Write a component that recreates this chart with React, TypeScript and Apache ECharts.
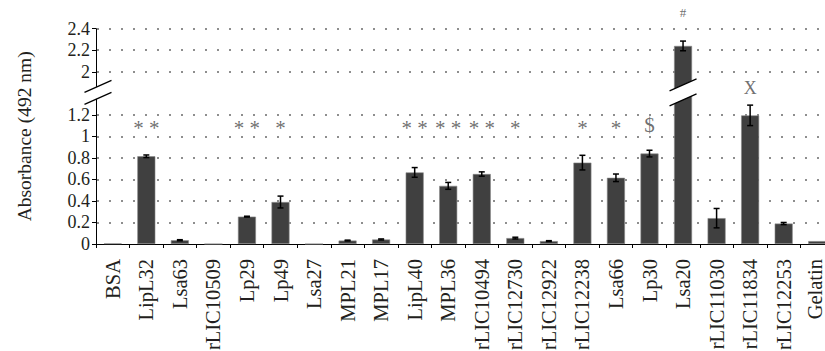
import React, { useEffect, useRef } from "react";
import * as echarts from "echarts";

const categories = [
  "BSA", "LipL32", "Lsa63", "rLIC10509", "Lp29", "Lp49", "Lsa27", "MPL21", "MPL17", "LipL40", "MPL36",
  "rLIC10494", "rLIC12730", "rLIC12922", "rLIC12238", "Lsa66", "Lp30", "Lsa20", "rLIC11030", "rLIC11834",
  "rLIC12253", "Gelatin",
];
const values = [
  0.006, 0.815, 0.035, 0, 0.254, 0.39, 0, 0.032, 0.042, 0.665, 0.54,
  0.65, 0.055, 0.027, 0.756, 0.615, 0.84, 2.24, 0.24, 1.195,
  0.19, 0.027,
];
const errors = [
  0, 0.012, 0.005, 0, 0.004, 0.055, 0, 0.004, 0.005, 0.045, 0.032,
  0.02, 0.008, 0.004, 0.068, 0.035, 0.031, 0.045, 0.09, 0.095,
  0.01, 0,
];
const annotations = [
  "", "* *", "", "", "* *", "*", "", "", "", "* *", "* *",
  "* *", "*", "", "*", "*", "$", "#", "", "X",
  "", "",
];
// annotation positions on the (broken) displayed scale
const annotationPos = [
  0, 1.08, 0, 0, 1.08, 1.08, 0, 0, 0, 1.08, 1.08,
  1.08, 1.08, 0, 1.08, 1.08, 1.11, 2.15, 0, 1.45,
  0, 0,
];
const annotationSize = [
  0, 21, 0, 0, 21, 21, 0, 0, 0, 21, 21,
  21, 21, 0, 21, 21, 21, 13, 0, 18,
  0, 0,
];
const gridValues = [0.2, 0.4, 0.6, 0.8, 1.0, 1.2, 1.6, 1.8, 2.0];
const breakAt = 1.4; // displayed position of the axis break
const breakShift = 0.4; // real values above the break are shifted down by this

const toDisplay = (v: number) => (v > 1.3 ? v - breakShift : v);

const FONT = "'Liberation Serif', 'Times New Roman', serif";

export default function App() {
  const ref = useRef<HTMLDivElement>(null);
  useEffect(() => {
    document.body.style.margin = "0";
    const chart = echarts.init(ref.current!, null, { renderer: "svg" });
    const barData = values.map((v) => toDisplay(v));
    const errData = values
      .map((v, i) => [i, toDisplay(v + errors[i]), toDisplay(v - errors[i]), errors[i]])
      .filter((d) => d[3] > 0);
    const annData = annotations
      .map((t, i) => ({
        value: [i, annotationPos[i]],
        text: t,
        label: { fontSize: annotationSize[i] },
      }))
      .filter((d) => d.text !== "");
    const catData = categories.map((c, i) =>
      i === categories.length - 1
        ? { value: c, textStyle: { verticalAlign: "bottom", lineHeight: 5 } }
        : c
    );

    chart.setOption({
      animation: false,
      grid: {
        left: 96,
        right: -9,
        top: 28.7,
        bottom: 107,
        containLabel: false,
        outerBoundsMode: "none",
      },
      xAxis: {
        type: "category",
        data: catData,
        boundaryGap: true,
        axisLine: { lineStyle: { color: "#000", width: 1 } },
        axisTick: { show: true, length: 4, lineStyle: { color: "#000" } },
        axisLabel: {
          rotate: 90,
          interval: 0,
          margin: 15,
          fontFamily: FONT,
          fontSize: 20.5,
          lineHeight: 15,
          color: "#231f20",
        },
      },
      yAxis: {
        type: "value",
        min: 0,
        max: 2.0,
        interval: 0.2,
        name: "Absorbance (492 nm)",
        nameLocation: "middle",
        nameGap: 62,
        nameTextStyle: { fontFamily: FONT, fontSize: 19.5, color: "#231f20" },
        axisLine: { show: true, lineStyle: { color: "#000", width: 1 } },
        axisTick: { show: true, length: 4, lineStyle: { color: "#000" } },
        splitLine: { show: false },
        axisLabel: {
          fontFamily: FONT,
          fontSize: 18,
          color: "#231f20",
          margin: 6,
          formatter: (v: number) => {
            if (Math.abs(v - breakAt) < 1e-6) return "";
            const real = v > 1.3 ? v + breakShift : v;
            return String(parseFloat(real.toFixed(1)));
          },
        },
      },
      series: [
        {
          type: "bar",
          data: barData,
          barWidth: 18,
          itemStyle: { color: "#404040", borderColor: "#8a8a8a", borderWidth: 0.6 },
          markLine: {
            silent: true,
            symbol: "none",
            label: { show: false },
            lineStyle: { color: "#6a6a6a", type: [2, 10], width: 1.5, dashOffset: -1 },
            data: gridValues.map((g) => ({ yAxis: g })),
            z: 1,
          },
          z: 2,
        },
        {
          type: "custom",
          data: errData,
          z: 5,
          renderItem: (params: any, api: any) => {
            const x = api.value(0);
            const top = api.coord([x, api.value(1)]);
            const bot = api.coord([x, api.value(2)]);
            const half = 3;
            const style = { stroke: "#000", lineWidth: 1.5 };
            return {
              type: "group",
              children: [
                { type: "line", shape: { x1: top[0], y1: top[1], x2: bot[0], y2: bot[1] }, style },
                { type: "line", shape: { x1: top[0] - half, y1: top[1], x2: top[0] + half, y2: top[1] }, style },
                { type: "line", shape: { x1: bot[0] - half, y1: bot[1], x2: bot[0] + half, y2: bot[1] }, style },
              ],
            };
          },
        },
        {
          type: "scatter",
          data: annData,
          symbolSize: 0,
          clip: false,
          silent: true,
          z: 6,
          label: {
            show: true,
            position: "inside",
            formatter: (p: any) => p.data.text,
            fontFamily: FONT,
            color: "#4a4a4a",
          },
        },
      ],
    });

    // break marks on the y axis and on the Lsa20 bar
    const yBreak = chart.convertToPixel({ yAxisIndex: 0 }, breakAt) as number;
    const x0 = chart.convertToPixel({ xAxisIndex: 0 }, categories[0]) as number;
    const x1 = chart.convertToPixel({ xAxisIndex: 0 }, categories[1]) as number;
    const gridLeft = x0 - (x1 - x0) / 2;
    const xBar = chart.convertToPixel({ xAxisIndex: 0 }, "Lsa20") as number;
    const mkBreak = (cx: number, cy: number, gap: number) => {
      const dx = 13.5;
      const dy = 6;
      const ls = { stroke: "#000", lineWidth: 1.3 };
      return [
        {
          type: "polygon",
          z: 100,
          shape: {
            points: [
              [cx - dx, cy - gap + dy],
              [cx + dx, cy - gap - dy],
              [cx + dx, cy + gap - dy],
              [cx - dx, cy + gap + dy],
            ],
          },
          style: { fill: "#fff" },
        },
        { type: "line", z: 101, shape: { x1: cx - dx, y1: cy - gap + dy, x2: cx + dx, y2: cy - gap - dy }, style: ls },
        { type: "line", z: 101, shape: { x1: cx - dx, y1: cy + gap + dy, x2: cx + dx, y2: cy + gap - dy }, style: ls },
      ];
    };
    chart.setOption({
      graphic: [...mkBreak(gridLeft + 2, yBreak - 1, 6), ...mkBreak(xBar, yBreak - 1, 7.5)],
    });

    return () => chart.dispose();
  }, []);
  return <div ref={ref} style={{ width: 825, height: 351 }} />;
}
